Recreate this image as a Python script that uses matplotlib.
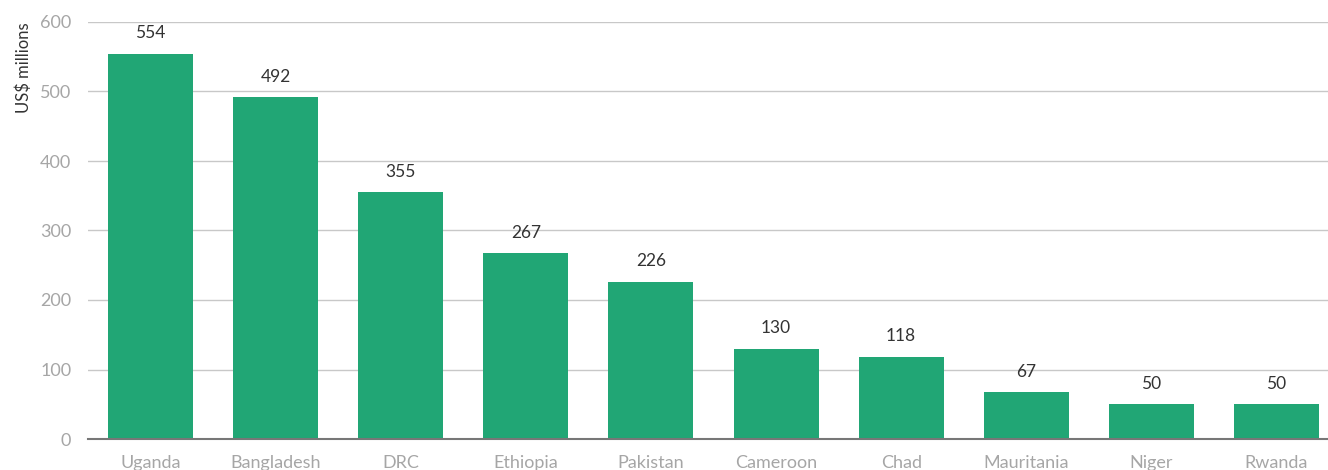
import matplotlib
matplotlib.use("Agg")
import matplotlib.pyplot as plt

plt.rcParams['font.family'] = ['Lato', 'DejaVu Sans']

countries = ["Uganda", "Bangladesh", "DRC", "Ethiopia", "Pakistan", "Cameroon",
             "Chad", "Mauritania", "Niger", "Rwanda"]
values = [554, 492, 355, 267, 226, 130, 118, 67, 50, 50]
yticks = [0, 100, 200, 300, 400, 500, 600]

fig = plt.figure(figsize=(13.28, 4.70), dpi=100)
ax = fig.add_axes([88/1328, 31/470, 1251/1328, (439-22)/470])

x = list(range(len(countries)))
bars = ax.bar(x, values, width=0.68, color="#21a675", zorder=3)
for xi, v in zip(x, values):
    ax.annotate(str(v), (xi, v), xytext=(0, 9), textcoords="offset points",
                ha="center", va="bottom", fontsize=12.5, color="#333333")

ax.set_xlim(-0.5, len(countries) - 0.5)
ax.set_ylim(0, 600)
ax.set_yticks(yticks)
ax.set_yticklabels([str(t) for t in yticks])
ax.set_xticks(x)
ax.set_xticklabels(countries)
ax.grid(axis="y", color="#c8c8c8", linewidth=1, zorder=0)
ax.grid(axis="x", visible=False)
for s in ["top", "right", "left"]:
    ax.spines[s].set_visible(False)
ax.spines["bottom"].set_color("#777777")
ax.spines["bottom"].set_linewidth(1.5)
ax.spines["bottom"].set_zorder(4)
ax.tick_params(axis="both", length=0, labelsize=13, labelcolor="#a6a6a6")
ax.tick_params(axis="y", pad=12)
ax.tick_params(axis="x", pad=11.5)
ax.set_ylabel("US$ millions", fontsize=12, color="#333333", labelpad=6)
ax.yaxis.label.set_position((0, 1.0))
ax.yaxis.label.set_horizontalalignment("right")

fig.savefig("out.png", dpi=100)
